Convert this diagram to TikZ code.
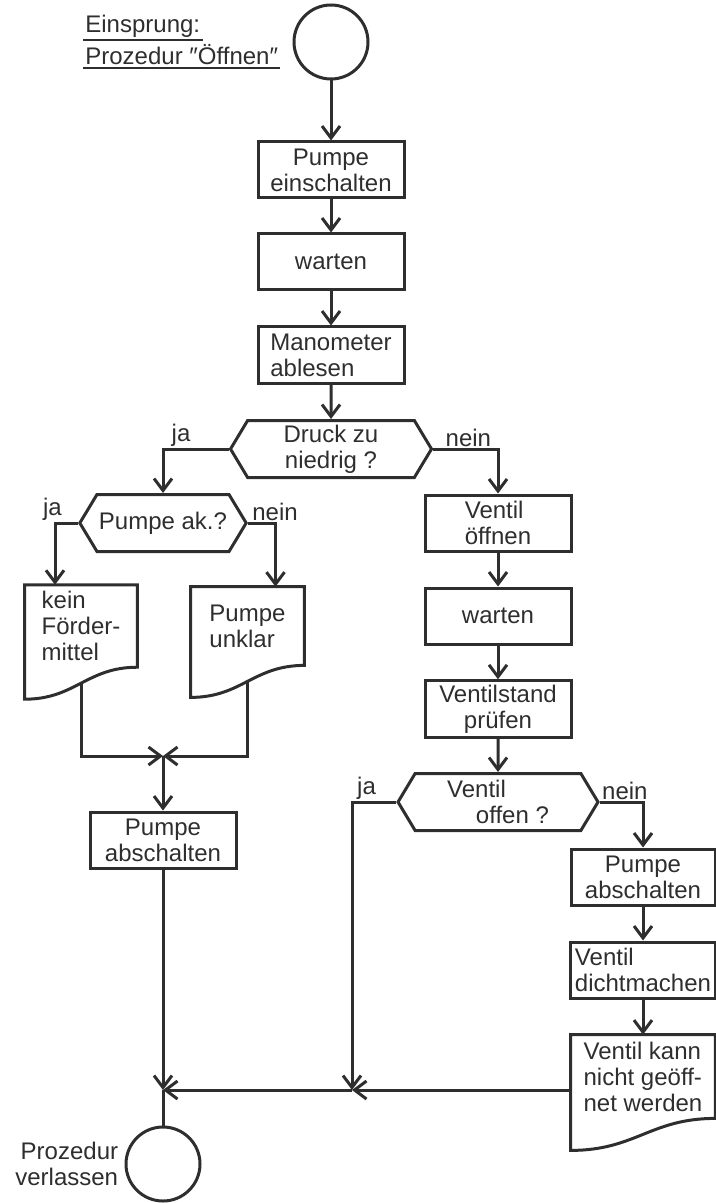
\documentclass[tikz,border=0pt]{standalone}
\usepackage{fontspec}
\setmainfont{Liberation Sans}
\usepackage{tikz}
\usetikzlibrary{arrows.meta,positioning,shapes.symbols,calc}
\definecolor{tinte}{HTML}{2E2E2E}

\tikzset{
    linie/.style={draw=tinte, line width=1.5pt},
    pfeil/.style={linie, -{Straight Barb[length=6pt,width=9pt]}},
    kasten/.style={linie, rectangle, minimum width=73pt, minimum height=28pt, inner sep=2pt, align=center, text=tinte},
    frage/.style={linie, signal, signal to=west and east, signal pointer angle=118, minimum height=28.5pt, inner sep=1pt, align=center, text=tinte},
    blatt/.style={rectangle, minimum height=39pt, inner sep=3pt, align=left, text=tinte},
    kreis/.style={linie, circle, minimum size=37pt, inner sep=0pt},
    marke/.style={inner sep=1pt, text=tinte},
}

% Beleg mit gewelltem Rand unten
\newcommand{\blattrand}[1]{%
    \draw[linie] (#1.north west) -- (#1.north east) -- (#1.south east)
    .. controls ($(#1.south east)!0.45!(#1.south west)$) and ($(#1.south west)!0.45!(#1.south east)+(0,-16pt)$)
    .. ($(#1.south west)+(0,-16pt)$) -- cycle;}

\begin{document}
\begin{tikzpicture}[x=0.5pt, y=-0.5pt, font=\fontsize{12}{13}\selectfont]
    \useasboundingbox (0,0) rectangle (716,1203);

    % Einsprung
    \node[kreis] (start) at (331,42) {};
    \node[marke, anchor=base west] (einsprung) at (83,33) {Einsprung:};
    \node[marke, anchor=base west] (prozedur) at (83,65) {Prozedur ″Öffnen″};
    \draw[linie, line width=1pt] (einsprung.south west) -- (einsprung.south east);
    \draw[linie, line width=1pt] (prozedur.south west) -- (prozedur.south east);

    % Hauptstrang
    \node[kasten] (ein) at (331,170) {Pumpe\\einschalten};
    \node[kasten] (warten) at (331,262) {warten};
    \node[kasten, align=left] (mano) at (331,355) {Manometer\\ablesen};
    \node[frage, minimum width=100.5pt] (druck) at (331,449) {Druck zu\\niedrig ?};

    % linker Zweig
    \node[frage, minimum width=83pt] (pumpeak) at (163,523) {Pumpe ak.?};
    \node[blatt, minimum width=56pt] (kein) at (81,626) {kein\\Förder-\\mittel};
    \node[blatt, minimum width=56.5pt] (unklar) at (247.5,626) {Pumpe\\unklar};
    \node[kasten] (aus) at (163,840) {Pumpe\\abschalten};
    \blattrand{kein}
    \blattrand{unklar}

    % rechter Zweig
    \node[kasten, align=left] (oeffnen) at (498,523) {Ventil\\öffnen};
    \node[kasten] (warten2) at (498,616) {warten};
    \node[kasten] (pruefen) at (498,709) {Ventilstand\\prüfen};
    \node[frage, minimum width=100pt, align=left] (offen) at (498,802) {Ventil\\\hspace*{1.2em}offen ?};
    \node[kasten, minimum width=72pt] (aus2) at (643,877) {Pumpe\\abschalten};
    \node[kasten, minimum width=72pt, align=left] (dicht) at (643,970) {Ventil\\dichtmachen};
    \node[blatt, minimum width=72pt, minimum height=41.5pt] (nicht) at (643,1076.5) {Ventil kann\\nicht geöff-\\net werden};
    \blattrand{nicht}

    % Ausgang
    \node[kreis] (ende) at (163,1164) {};
    \node[marke, align=right, left=2pt of ende] (verlassen) {Prozedur\\verlassen};

    \coordinate (m1) at (163,756);
    \coordinate (m2) at (352,1090);
    \coordinate (m3) at (163,1090);

    % ja / nein
    \node[marke, above left=0pt and 18pt of druck.west] (ja1) {ja};
    \node[marke, above right=0pt and 5pt of druck.east] (nein1) {nein};
    \node[marke, above left=0pt and 7pt of pumpeak.west] (ja2) {ja};
    \node[marke, above right=0pt and 1pt of pumpeak.east] (nein2) {nein};
    \node[marke, above left=0pt and 9pt of offen.west] (ja3) {ja};
    \node[marke, above right=0pt and 0pt of offen.east] (nein3) {nein};

    % Verbindungen
    \draw[pfeil] (start) -- (ein);
    \draw[pfeil] (ein) -- (warten);
    \draw[pfeil] (warten) -- (mano);
    \draw[pfeil] (mano) -- (druck);
    \draw[pfeil] (druck.west) -| (pumpeak.north);
    \draw[pfeil] (druck.east) -| (oeffnen.north);
    \draw[pfeil] (pumpeak.west) -| ([xshift=-13pt]kein.north);
    \draw[pfeil] (pumpeak.east) -| ([xshift=14pt]unklar.north);
    \draw[pfeil] ([yshift=-8pt]kein.south) |- (m1);
    \draw[pfeil] ([yshift=-8pt]unklar.south) |- (m1);
    \draw[pfeil] (m1) -- (aus);
    \draw[pfeil] (oeffnen) -- (warten2);
    \draw[pfeil] (warten2) -- (pruefen);
    \draw[pfeil] (pruefen) -- (offen);
    \draw[pfeil] (offen.west) -| (m2);
    \draw[pfeil] (offen.east) -| (aus2.north);
    \draw[pfeil] (aus2) -- (dicht);
    \draw[pfeil] (dicht) -- (nicht);
    \draw[pfeil] (m2 -| nicht.west) -- (m2);
    \draw[pfeil] (m2) -- (m3);
    \draw[pfeil] (aus) -- (m3);
    \draw[linie] (m3) -- (ende);
\end{tikzpicture}
\end{document}
